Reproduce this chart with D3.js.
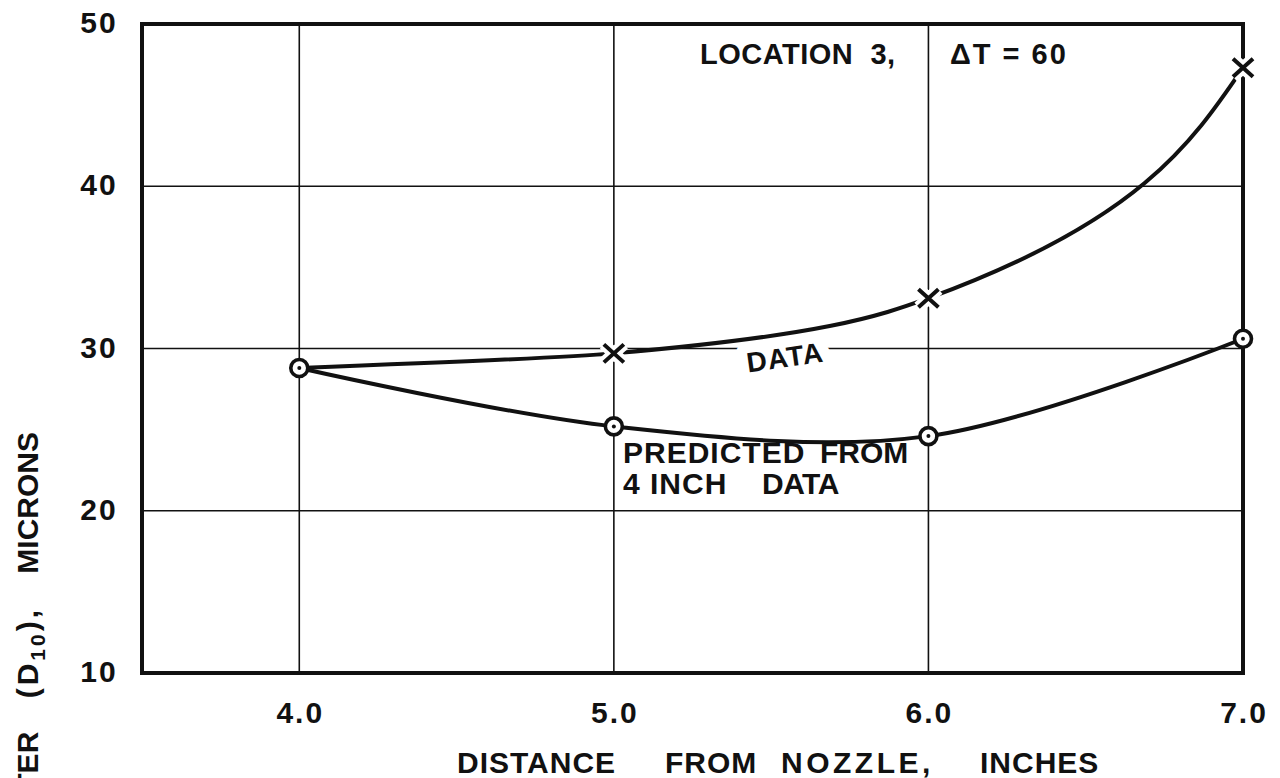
<!DOCTYPE html>
<html>
<head>
<meta charset="utf-8">
<script src="https://cdn.jsdelivr.net/npm/d3@7"></script>
<style>
  html, body { margin: 0; padding: 0; background: #fff; }
  svg { display: block; }
  text { font-family: "Liberation Sans", Arial, sans-serif; font-weight: bold; fill: #111; white-space: pre; }
</style>
</head>
<body>
<svg id="chart" width="1280" height="778"></svg>
<script>
// Distance from nozzle (inches) at which drops were sampled
const distances = [4.0, 5.0, 6.0, 7.0];
// Measured mean diameter D10 (microns)
const measured = [28.8, 29.7, 33.1, 47.3];
// Diameter predicted from the 4-inch data (microns)
const predicted = [28.8, 25.2, 24.6, 30.6];

const xTicks = [4.0, 5.0, 6.0, 7.0];
const yTicks = [10, 20, 30, 40, 50];

const svg = d3.select("#chart");
const ink = "#111";

const x = d3.scaleLinear().domain([3.5, 7.0]).range([142, 1243]);
const y = d3.scaleLinear().domain([10, 50]).range([673, 24]);

const measuredPts = distances.map((d, i) => [d, measured[i]]);
const predictedPts = distances.map((d, i) => [d, predicted[i]]);

// grid
const grid = svg.append("g");
grid.selectAll("line.v").data(xTicks).join("line")
  .attr("x1", d => x(d)).attr("x2", d => x(d))
  .attr("y1", y(10)).attr("y2", y(50))
  .attr("stroke", ink).attr("stroke-width", 1.6);
grid.selectAll("line.h").data(yTicks).join("line")
  .attr("x1", x(3.5)).attr("x2", x(7.0))
  .attr("y1", d => y(d)).attr("y2", d => y(d))
  .attr("stroke", ink).attr("stroke-width", 1.6);

// curve label sitting on the 30 gridline, with a white knock-out
svg.append("text")
  .attr("transform", "translate(785,357) rotate(-8)")
  .attr("text-anchor", "middle").attr("dy", "0.36em")
  .attr("font-size", 28)
  .attr("stroke", "#fff").attr("stroke-width", 22).attr("paint-order", "stroke")
  .attr("stroke-linejoin", "round")
  .style("letter-spacing", "1px")
  .text("DATA");

// frame
svg.append("rect")
  .attr("x", x(3.5)).attr("y", y(50))
  .attr("width", x(7.0) - x(3.5)).attr("height", y(10) - y(50))
  .attr("fill", "none").attr("stroke", ink).attr("stroke-width", 4);

// tick labels
svg.append("g").selectAll("text").data(xTicks).join("text")
  .attr("x", d => x(d) + 1).attr("y", 723)
  .attr("text-anchor", "middle").attr("font-size", 30)
  .style("letter-spacing", "2px")
  .text(d => d3.format(".1f")(d));
svg.append("g").selectAll("text").data(yTicks).join("text")
  .attr("x", 99).attr("y", d => y(d) + 9)
  .attr("text-anchor", "middle").attr("font-size", 30)
  .style("letter-spacing", "2px")
  .text(d => d);

// axis titles
const xTitle = svg.append("text").attr("y", 773).attr("font-size", 30).style("letter-spacing", "1px");
xTitle.append("tspan").attr("x", 457).text("DISTANCE");
xTitle.append("tspan").attr("x", 665).text("FROM");
xTitle.append("tspan").attr("x", 781).style("letter-spacing", "3.5px").text("NOZZLE,");
xTitle.append("tspan").attr("x", 980).text("INCHES");

const yTitle = svg.append("text")
  .attr("transform", "translate(38,432) rotate(-90)")
  .attr("text-anchor", "end").attr("font-size", 30);
yTitle.append("tspan").text("MEAN DIAMETER    ");
yTitle.append("tspan").style("letter-spacing", "3px").text("(D");
yTitle.append("tspan").attr("dy", 7).attr("font-size", 21).style("letter-spacing", "3px").text("10");
yTitle.append("tspan").attr("dy", -7).style("letter-spacing", "3px").text("),");
yTitle.append("tspan").text("    MICRONS");

// annotations
svg.append("text")
  .attr("x", 700).attr("y", 64).attr("font-size", 29).style("letter-spacing", "0.5px")
  .text("LOCATION  3,");
svg.append("text")
  .attr("x", 950).attr("y", 64).attr("font-size", 29).style("letter-spacing", "2px")
  .text("\u0394T = 60");
const pred = svg.append("text").attr("font-size", 30);
pred.append("tspan").attr("x", 623).attr("y", 463).style("letter-spacing", "1px").text("PREDICTED");
pred.append("tspan").attr("x", 820).attr("y", 463).text("FROM");
pred.append("tspan").attr("x", 623).attr("y", 494).style("letter-spacing", "1px").text("4 INCH");
pred.append("tspan").attr("x", 762).attr("y", 494).style("letter-spacing", "-0.5px").text("DATA");

// curves: the measured series rises steadily, so it is fitted monotone in y
const line = curve => d3.line().x(d => x(d[0])).y(d => y(d[1])).curve(curve);
svg.append("path").datum(measuredPts)
  .attr("d", line(d3.curveMonotoneY))
  .attr("fill", "none").attr("stroke", ink).attr("stroke-width", 4);
svg.append("path").datum(predictedPts)
  .attr("d", line(d3.curveCatmullRom))
  .attr("fill", "none").attr("stroke", ink).attr("stroke-width", 4);

// measured points after the shared 4-inch start are marked with crosses
const crossPts = measuredPts.slice(1);
const cross = d => {
  const cx = x(d[0]), cy = y(d[1]), w = 10, h = 9;
  return `M${cx - w},${cy - h}L${cx + w},${cy + h}M${cx - w},${cy + h}L${cx + w},${cy - h}`;
};
svg.append("g").selectAll("path").data(crossPts).join("path")
  .attr("d", cross).attr("stroke", "#fff").attr("stroke-width", 12).attr("fill", "none");
svg.append("g").selectAll("path").data(crossPts).join("path")
  .attr("d", cross).attr("stroke", ink).attr("stroke-width", 4).attr("fill", "none");

// predicted points: dotted circles
const circ = svg.append("g").selectAll("g").data(predictedPts).join("g")
  .attr("transform", d => `translate(${x(d[0])},${y(d[1])})`);
circ.append("circle").attr("r", 8.5).attr("fill", "#fff").attr("stroke", ink).attr("stroke-width", 3.6);
circ.append("circle").attr("r", 2).attr("fill", ink);
</script>
</body>
</html>
